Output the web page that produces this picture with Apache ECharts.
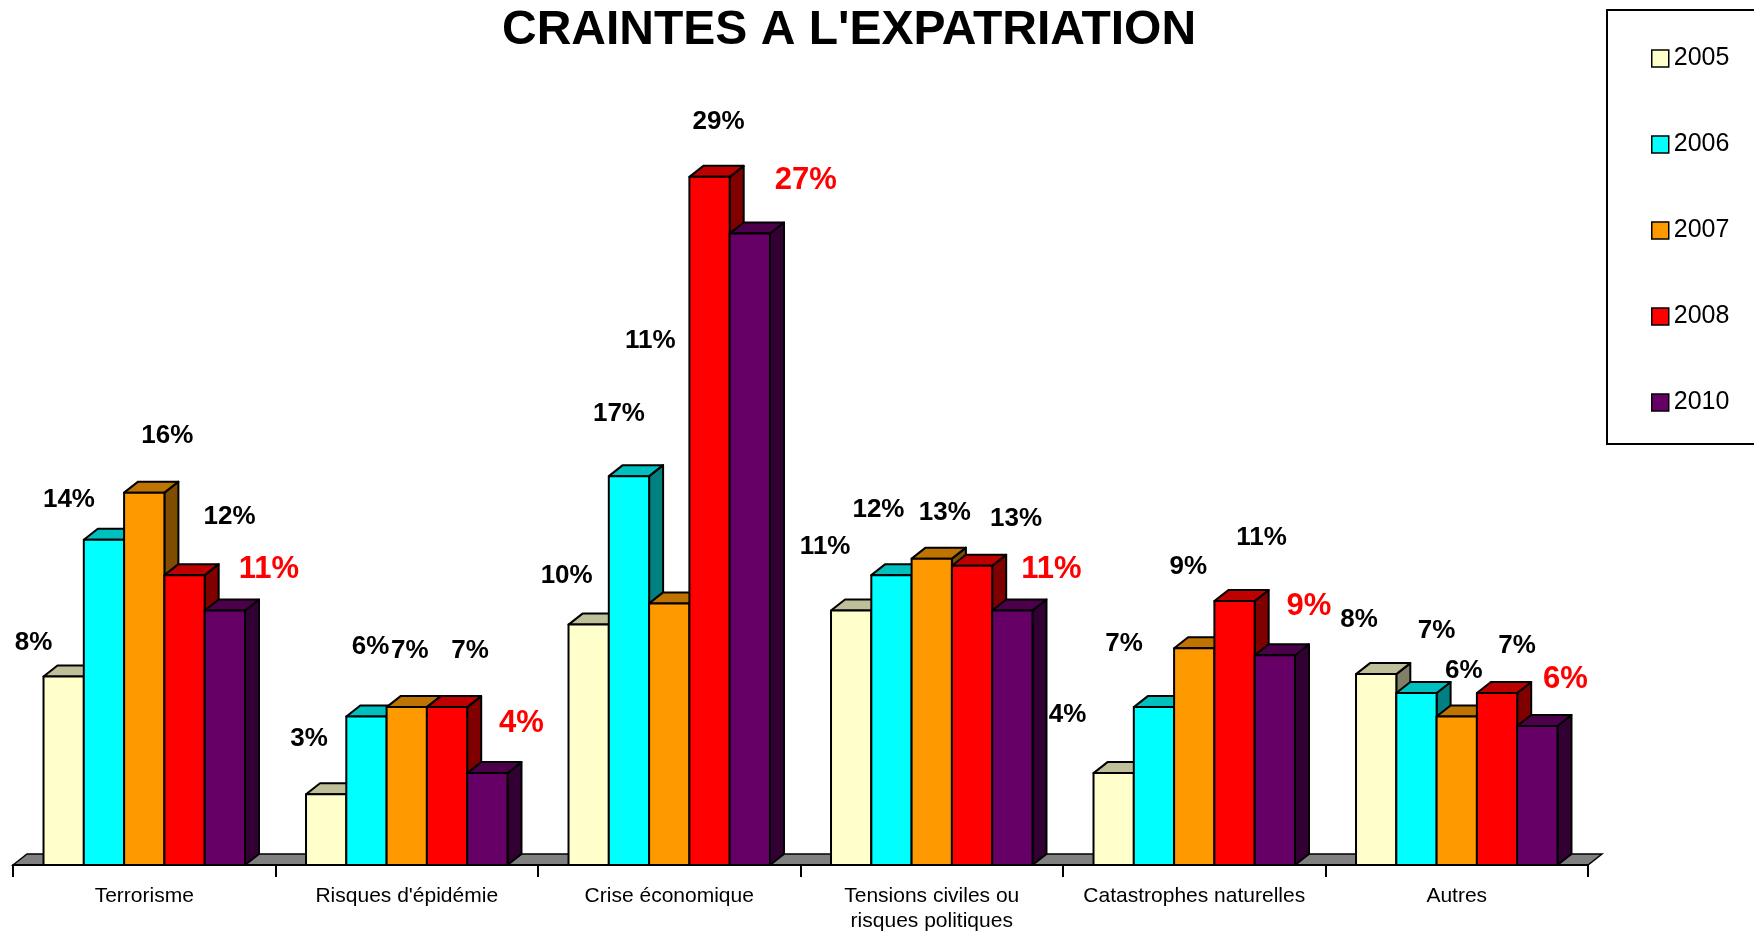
<!DOCTYPE html>
<html>
<head>
<meta charset="utf-8">
<title>Craintes a l'expatriation</title>
<script src="https://cdn.jsdelivr.net/npm/echarts@6/dist/echarts.min.js"></script>
<style>
  html, body { margin: 0; padding: 0; background: #fff; }
  #chart { width: 1754px; height: 934px; }
</style>
</head>
<body>
<div id="chart"></div>
<script>
// data (percent)
var categories = ['Terrorisme', "Risques d'épidémie", 'Crise économique',
  'Tensions civiles ou\nrisques politiques', 'Catastrophes naturelles', 'Autres'];
var years = ['2005', '2006', '2007', '2008', '2010'];
var v2005 = [8.0, 3.0, 10.2, 10.8, 3.9, 8.1];
var v2006 = [13.8, 6.3, 16.5, 12.3, 6.7, 7.3];
var v2007 = [15.8, 6.7, 11.1, 13.0, 9.2, 6.3];
var v2008 = [12.3, 6.7, 29.2, 12.7, 11.2, 7.3];
var v2010 = [10.8, 3.9, 26.8, 10.8, 8.9, 5.9];
var values = [v2005, v2006, v2007, v2008, v2010];

// colours: front, top, side
var front = ['#FFFFCC', '#00FFFF', '#FF9900', '#FF0000', '#660066'];
var topC = ['#BFBF99', '#00BFBF', '#BF7300', '#BF0000', '#4C004C'];
var sideC = ['#808066', '#008080', '#804C00', '#800000', '#330033'];

// the excel labels sit in odd places, nudges from bar top centre (px)
var labelNudge = [
  [[-30, -34], [-17, -55], [-22, -49], [-26, -64], [-46, -58], [-17, -54]],
  [[-35, -40], [4, -70], [-10, -62], [-13, -65], [-30, -63], [20, -62]],
  [[23, -57], [3, -56], [-19, -263], [13, -46], [-6, -81], [7, -46]],
  [[45, -58], [23, -56], [9, -55], [44, -47], [27, -63], [20, -47]],
  [[44, -41], [34, -50], [56, -53], [39, -41], [34, -49], [28, -47]]
];

var FONT = "'Liberation Sans', Arial, sans-serif";
var DX = 14, DY = -11;
var BAR_FRAC = 0.1535;

function barRender(si) {
  return function (params, api) {
    var cat = api.value(0);
    var val = api.value(1);
    var b = api.coord([cat, 0]);
    var t = api.coord([cat, val]);
    var band = api.size([1, 0])[0];
    var w = band * BAR_FRAC;
    var x0 = b[0] - w * 2.5 + si * w;
    var yT = t[1], yB = b[1];
    var x1 = x0 + w;
    var line = { stroke: '#000', lineWidth: 2, lineJoin: 'round' };
    var nudge = labelNudge[si][cat];
    var red = si === 4;
    return {
      type: 'group',
      children: [
        {
          type: 'polygon',
          shape: { points: [[x1, yT], [x1 + DX, yT + DY], [x1 + DX, yB + DY], [x1, yB]] },
          style: Object.assign({ fill: sideC[si] }, line)
        },
        {
          type: 'polygon',
          shape: { points: [[x0, yT], [x0 + DX, yT + DY], [x1 + DX, yT + DY], [x1, yT]] },
          style: Object.assign({ fill: topC[si] }, line)
        },
        {
          type: 'rect',
          shape: { x: x0, y: yT, width: w, height: yB - yT },
          style: Object.assign({ fill: front[si] }, line)
        },
        {
          type: 'text',
          x: (x0 + x1) / 2 + nudge[0],
          y: yT + nudge[1],
          z2: 100,
          style: {
            text: Math.round(val) + '%',
            x: 0, y: 0,
            align: 'center',
            verticalAlign: 'middle',
            fill: red ? '#FF0000' : '#000',
            font: 'bold ' + (red ? 31 : 26) + 'px ' + FONT
          }
        }
      ]
    };
  };
}

var series = [{
  type: 'custom',
  name: 'floor',
  z: 1,
  silent: true,
  data: [[0, 0]],
  renderItem: function (params, api) {
    var cs = params.coordSys;
    var yb = cs.y + cs.height;
    return {
      type: 'polygon',
      shape: { points: [[cs.x, yb], [cs.x + DX, yb + DY], [cs.x + cs.width + DX, yb + DY], [cs.x + cs.width, yb]] },
      style: { fill: '#808080', stroke: '#000', lineWidth: 1.5 }
    };
  }
}];

years.forEach(function (y, si) {
  series.push({
    type: 'custom',
    name: y,
    z: 2,
    itemStyle: { color: front[si], borderColor: '#000', borderWidth: 1.5 },
    data: values[si].map(function (v, i) { return [i, v]; }),
    encode: { x: 0, y: 1 },
    renderItem: barRender(si)
  });
});

var chart = echarts.init(document.getElementById('chart'));
chart.setOption({
  animation: false,
  backgroundColor: '#fff',
  title: {
    text: "CRAINTES A L'EXPATRIATION",
    left: 844,
    textAlign: 'center',
    top: 2,
    textStyle: { fontFamily: FONT, fontWeight: 'bold', fontSize: 48, color: '#000' }
  },
  legend: {
    data: years,
    orient: 'vertical',
    left: 1646,
    top: 41,
    itemWidth: 17,
    itemHeight: 17,
    itemGap: 61,
    icon: 'rect',
    itemStyle: { borderColor: '#000', borderWidth: 1.5 },
    textStyle: { fontFamily: FONT, fontSize: 25, lineHeight: 25, color: '#000' }
  },
  graphic: [{
    type: 'rect',
    shape: { x: 1607, y: 10, width: 200, height: 434 },
    style: { fill: 'none', stroke: '#000', lineWidth: 2 },
    z: 10
  }],
  grid: { left: 13, right: 166, top: 158, bottom: 67 },
  xAxis: {
    type: 'category',
    data: categories,
    axisLine: { lineStyle: { color: '#000', width: 2 } },
    axisTick: { show: true, length: 12, lineStyle: { color: '#000', width: 2 } },
    axisLabel: {
      interval: 0,
      margin: 19,
      fontFamily: FONT,
      fontSize: 21,
      lineHeight: 25,
      color: '#000'
    },
    z: 5
  },
  yAxis: { type: 'value', min: 0, max: 30, show: false },
  series: series
});
</script>
</body>
</html>
